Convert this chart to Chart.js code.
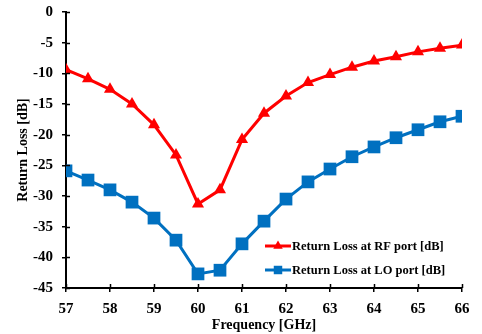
<!DOCTYPE html>
<html><head><meta charset="utf-8">
<script src="https://cdn.jsdelivr.net/npm/chart.js@4/dist/chart.umd.min.js"></script>
<style>html,body{margin:0;padding:0;background:#fff}#w{width:482px;height:334px}</style>
</head><body><div id="w"><canvas id="c"></canvas></div>
<script>
const frequencies = [57,57.5,58,58.5,59,59.5,60,60.5,61,61.5,62,62.5,63,63.5,64,64.5,65,65.5,66];
const rfReturnLoss = [-9.4,-10.9,-12.6,-15.0,-18.4,-23.3,-31.3,-29.0,-20.8,-16.5,-13.7,-11.5,-10.2,-9.0,-8.0,-7.3,-6.5,-5.9,-5.4];
const loReturnLoss = [-25.9,-27.4,-29.0,-31.0,-33.6,-37.2,-42.7,-42.1,-37.8,-34.1,-30.5,-27.7,-25.6,-23.6,-22.0,-20.5,-19.2,-17.9,-17.0];
const xTicks = [57,58,59,60,61,62,63,64,65,66];
const yTicks = [0,-5,-10,-15,-20,-25,-30,-35,-40,-45];
const seriesNames = ['Return Loss at RF port [dB]','Return Loss at LO port [dB]'];
const RED = '#FF0000', BLUE = '#0070C0';
const FONT = 'Liberation Serif';

const innerTicks = {
  id:'innerTicks',
  afterDraw(chart){
    const ctx = chart.ctx, xs = chart.scales.x, ys = chart.scales.y;
    ctx.save(); ctx.strokeStyle='#000'; ctx.lineWidth=1.5;
    ctx.beginPath();
    xTicks.forEach(v=>{const px=Math.round(xs.getPixelForValue(v))+0.5; ctx.moveTo(px, ys.bottom); ctx.lineTo(px, ys.bottom-4);});
    yTicks.forEach(v=>{const py=Math.round(ys.getPixelForValue(v))+0.5; ctx.moveTo(xs.left, py); ctx.lineTo(xs.left+4, py);});
    ctx.stroke();
    // legend
    const items = [{c:RED,s:'triangle',r:5.5},{c:BLUE,s:'rect',r:6}];
    const lx = 265, ly0 = 246;
    items.forEach((it,i)=>{
      const y = ly0 + i*24;
      ctx.strokeStyle=it.c; ctx.lineWidth=3;
      ctx.beginPath(); ctx.moveTo(lx,y); ctx.lineTo(lx+26,y); ctx.stroke();
      ctx.fillStyle=it.c;
      Chart.helpers.drawPoint(ctx,{pointStyle:it.s,radius:it.r,borderWidth:0},lx+13,y);
      ctx.fillStyle='#000'; ctx.font='bold 12.5px '+FONT; ctx.textBaseline='middle'; ctx.textAlign='left';
      ctx.fillText(seriesNames[i], lx+27, y+1);
    });
    ctx.restore();
  }
};

new Chart(document.getElementById('c'),{
  type:'line',
  data:{datasets:[
    {label:seriesNames[0],data:frequencies.map((f,i)=>({x:f,y:rfReturnLoss[i]})),borderColor:RED,backgroundColor:RED,borderWidth:3,pointStyle:'triangle',pointRadius:7,pointBorderWidth:0,tension:0},
    {label:seriesNames[1],data:frequencies.map((f,i)=>({x:f,y:loReturnLoss[i]})),borderColor:BLUE,backgroundColor:BLUE,borderWidth:3,pointStyle:'rect',pointRadius:9,pointBorderWidth:0,tension:0}
  ]},
  options:{
    responsive:true,maintainAspectRatio:false,animation:false,
    layout:{padding:{top:12,right:20,left:0,bottom:0}},
    plugins:{legend:{display:false},tooltip:{enabled:false}},
    scales:{
      x:{type:'linear',min:57,max:66,
        afterBuildTicks(s){s.ticks=xTicks.map(v=>({value:v}));},
        afterFit(s){s.height=46;s.paddingLeft=0;s.paddingRight=0;},
        ticks:{color:'#000',font:{family:FONT,size:15,weight:'bold'},padding:8,maxRotation:0},
        grid:{drawOnChartArea:false,tickLength:4,color:'#000',lineWidth:1.5},
        border:{color:'#000',width:2},
        title:{display:true,text:'Frequency [GHz]',color:'#000',font:{family:FONT,size:14,weight:'bold'},padding:{top:0,bottom:0}}
      },
      y:{min:-45,max:0,
        afterBuildTicks(s){s.ticks=yTicks.map(v=>({value:v}));},
        afterFit(s){s.width=66;s.paddingTop=0;s.paddingBottom=0;},
        ticks:{color:'#000',font:{family:FONT,size:15,weight:'bold'},padding:9},
        grid:{drawOnChartArea:false,tickLength:4,color:'#000',lineWidth:1.5},
        border:{color:'#000',width:2},
        title:{display:true,text:'Return Loss [dB]',color:'#000',font:{family:FONT,size:14,weight:'bold'},padding:{top:15,bottom:0}}
      }
    }
  },
  plugins:[innerTicks]
});
</script></body></html>
